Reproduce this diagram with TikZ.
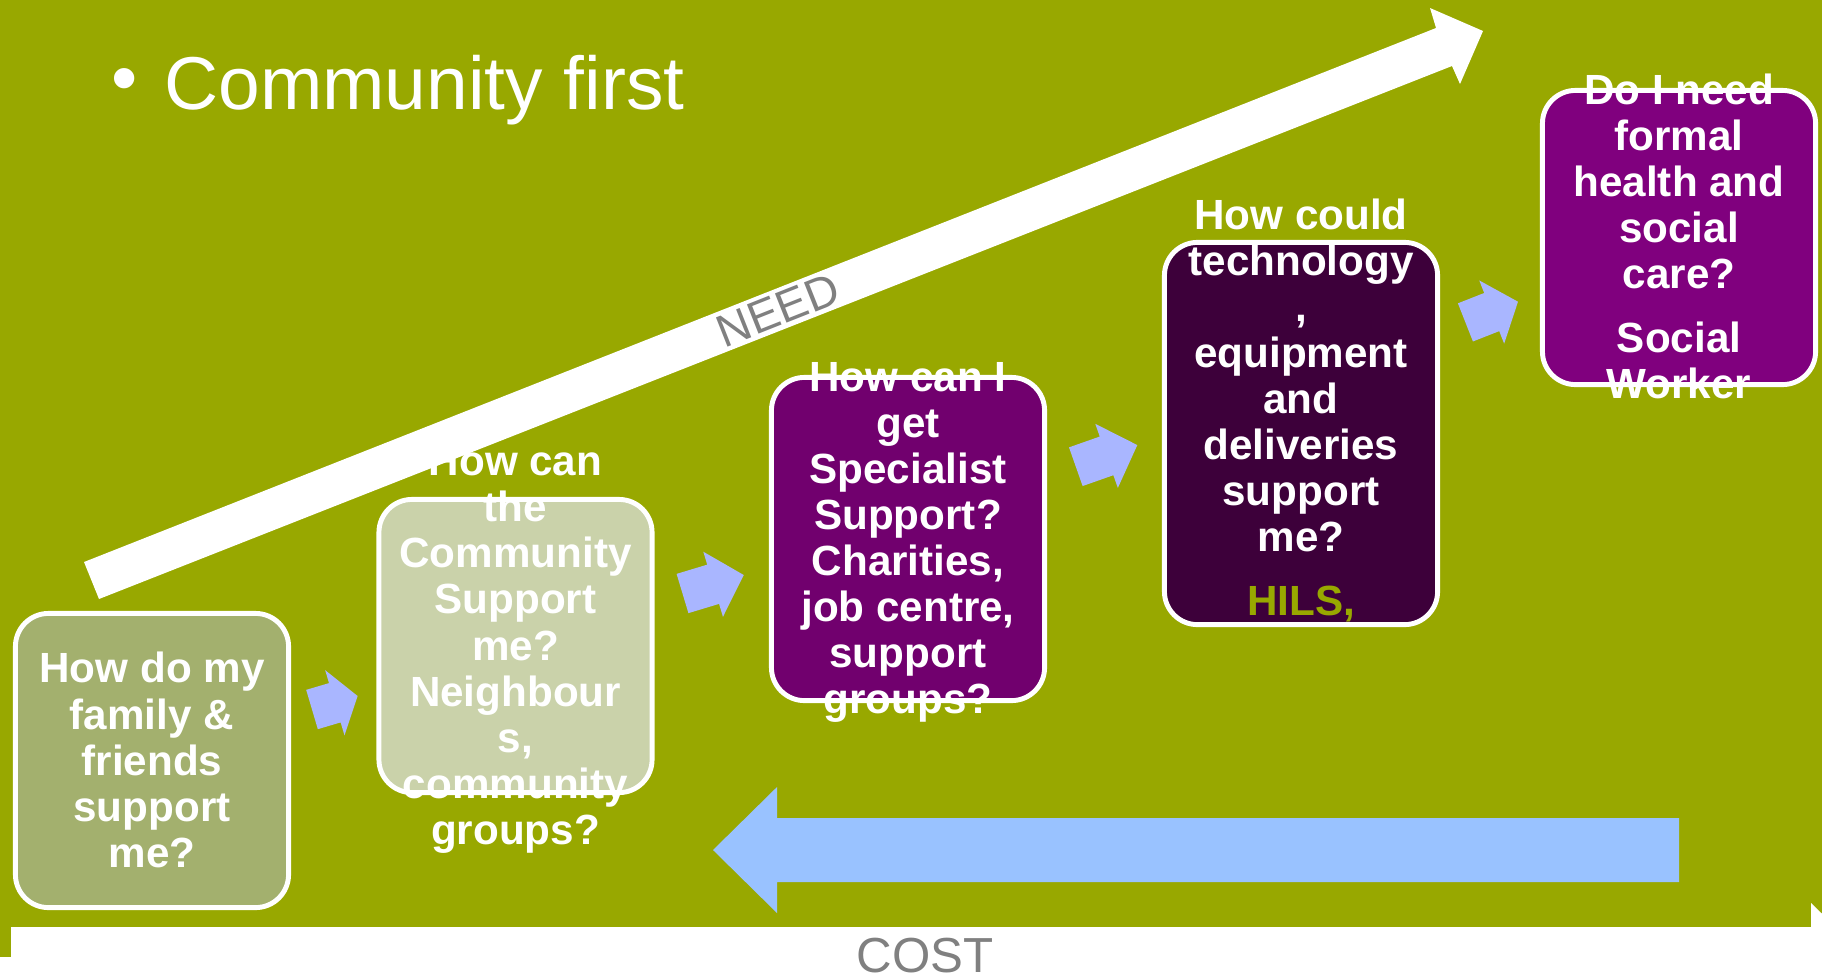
\documentclass[tikz,border=0pt]{standalone}
\usepackage{fontspec}
\setmainfont{Liberation Sans}
\definecolor{slidegreen}{RGB}{152,168,0}
\definecolor{familyfill}{RGB}{163,176,110}
\definecolor{communityfill}{RGB}{202,210,170}
\definecolor{specialistfill}{RGB}{113,0,110}
\definecolor{techfill}{RGB}{61,0,58}
\definecolor{formalfill}{RGB}{128,0,126}
\definecolor{stepblue}{RGB}{169,182,255}
\definecolor{backblue}{RGB}{153,194,255}
\definecolor{labelgray}{RGB}{128,128,128}
\tikzset{
  qbox/.style={draw=white, line width=1.4pt, rounded corners=0.33cm, minimum width=2.73cm, inner sep=0pt},
  qtext/.style={text=white, font=\bfseries\fontsize{12}{13.1}\selectfont, align=center, inner sep=0pt},
  pics/stepper/.style={code={
    \fill[stepblue] (0,-20.5) -- (#1/2,-20.5) -- (#1/2,-34) -- (#1,0) -- (#1/2,34) -- (#1/2,20.5) -- (0,20.5) -- cycle;
  }}
}
\begin{document}
\begin{tikzpicture}[x=0.01cm, y=-0.01cm]
    % page, 1822 x 975
    \useasboundingbox (0,0) rectangle (1822,975);
    \clip (0,0) rectangle (1822,975);
    \fill[white] (0,0) rectangle (1822,975);
    % slide background
    \fill[slidegreen] (0,0) rectangle (1822,957);
    % title
    \node[anchor=base west, text=white, inner sep=0pt, font=\fontsize{21.3}{24}\selectfont] (title) at (111,109) {\raisebox{1.5pt}{\textbullet}\hspace{7.5pt}Community first};
    % cost arrow along the bottom
    \fill[white] (11,927) -- (1811,927) -- (1811,903) -- (1895,985) -- (1811,1067) -- (1811,1040) -- (11,1040) -- cycle;
    % need arrow
    \fill[white] (84,562) -- (1436,28) -- (1430,8) -- (1483,31) -- (1460,84) -- (1452,66) -- (99,599) -- cycle;
    % need label
    \node[rotate=21.6, text=labelgray, font=\fontsize{13}{15}\selectfont] (need) at (778,310) {NEED};
    % cost label
    \node[anchor=base, text=labelgray, font=\fontsize{14}{16}\selectfont] (cost) at (925,972) {COST};
    % big blue arrow back to the start
    \fill[backblue] (713,850) -- (777,787) -- (777,818) -- (1679,818) -- (1679,882) -- (777,882) -- (777,913) -- cycle;
    % boxes
    \node[qbox, fill=familyfill, minimum height=2.94cm] (family) at (152,760.5) {};
    \node[qbox, fill=communityfill, minimum height=2.93cm] (community) at (515.5,646) {};
    \node[qbox, fill=specialistfill, minimum height=3.23cm] (specialist) at (908,539) {};
    \node[qbox, fill=techfill, minimum height=3.82cm] (tech) at (1301,433.5) {};
    \node[qbox, fill=formalfill, minimum height=2.94cm] (formal) at (1679,237.5) {};
    % step arrows between boxes
    \pic[rotate=16.5] at (312,709.5) {stepper=47.6};
    \pic[rotate=16.8] at (682.5,593.5) {stepper=64};
    \pic[rotate=19.4] at (1075.8,466.7) {stepper=65.2};
    \pic[rotate=21.5] at (1465.4,322.4) {stepper=56.5};
    % box texts
    \node[qtext] (familytext) at (152,760) {How do my\\family \&\\friends\\support\\me?};
    \node[qtext] (communitytext) at (515.5,650) {How can\\the\\Community\\Support\\me?\\Neighbour\\s,\\community\\groups?};
    \node[qtext] (specialisttext) at (908,542.5) {How can I\\get\\Specialist\\Support?\\Charities,\\job centre,\\support\\groups?};
    \node[qtext] (techtext) at (1301,410.5) {How could\\technology\\,\\equipment\\and\\deliveries\\support\\me?\\[5pt]\textcolor{slidegreen}{HILS,}};
    \node[qtext] (formaltext) at (1679,236) {Do I need\\formal\\health and\\social\\care?\\[5pt]Social\\Worker};
\end{tikzpicture}
\end{document}
